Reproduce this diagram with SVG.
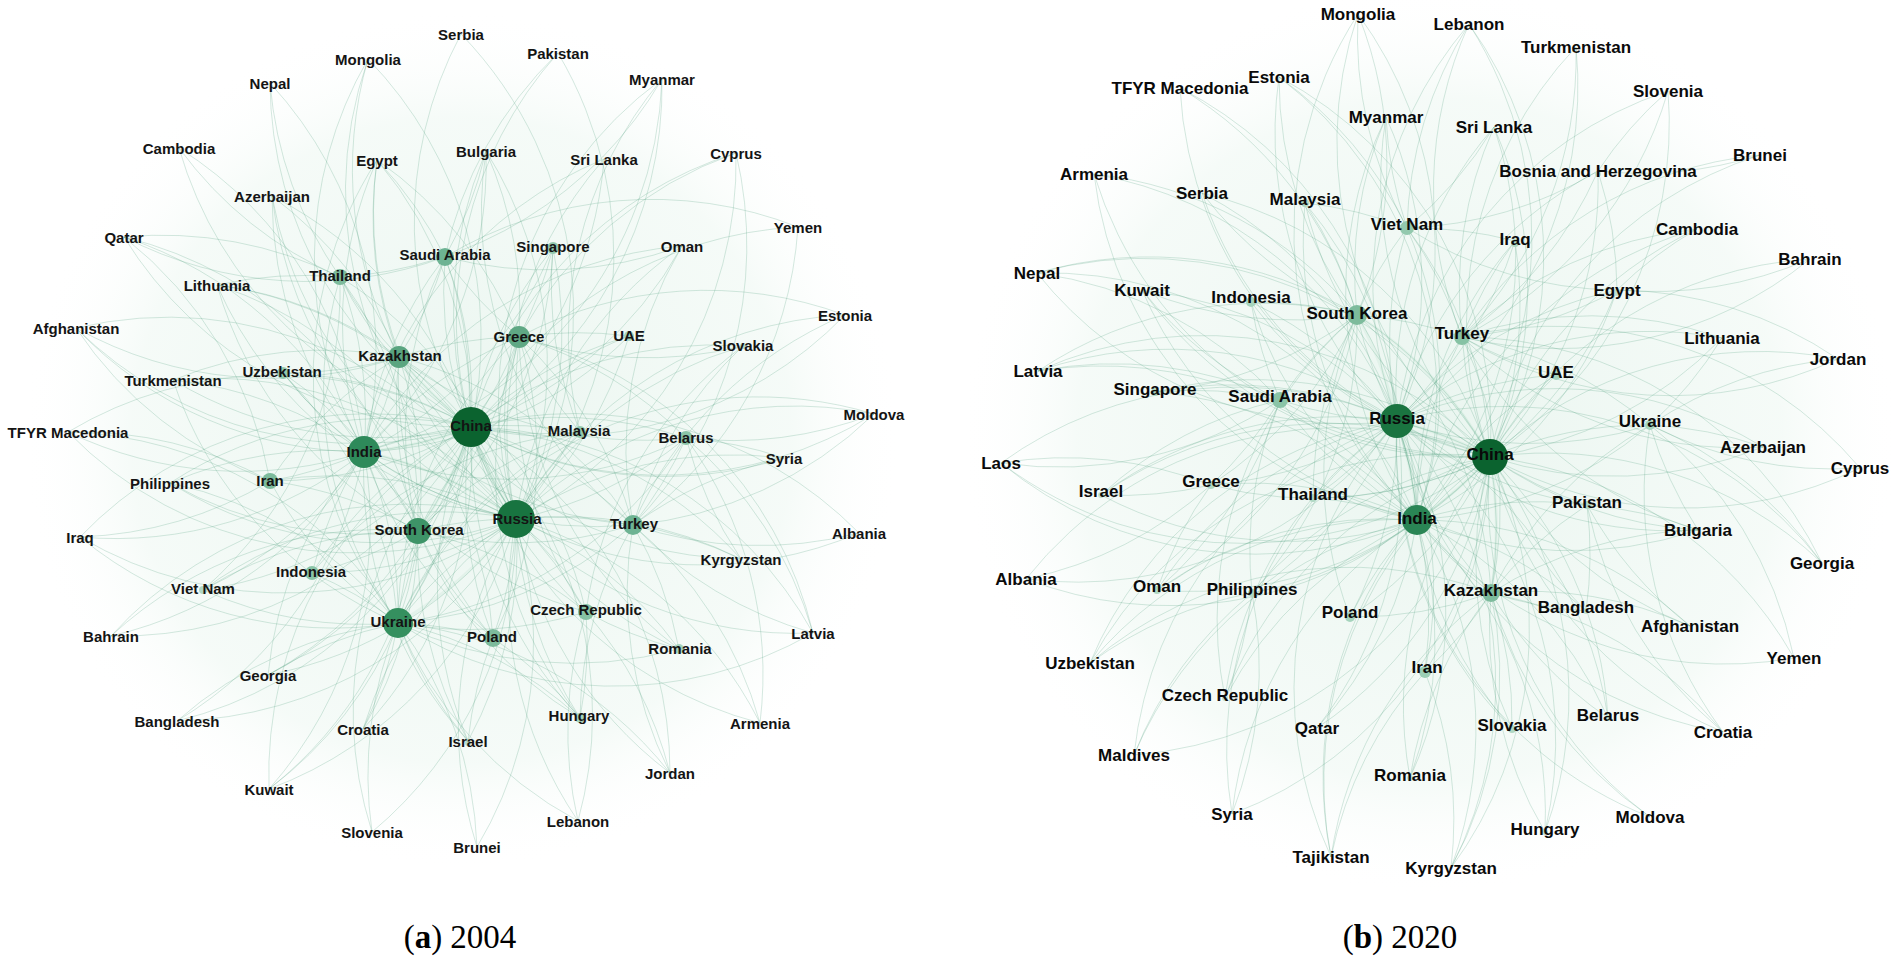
<svg xmlns="http://www.w3.org/2000/svg" width="1896" height="962" viewBox="0 0 1896 962">
<style>
.e{fill:none;stroke:#4f9e7c;stroke-width:.8;stroke-opacity:.3}
.w{fill:none;stroke:#8fcbb0;stroke-width:3;stroke-opacity:.12}
.ta{font-family:"Liberation Sans",Arial,sans-serif;font-weight:bold;font-size:15px;text-anchor:middle;dominant-baseline:central;fill:#141414}
.tb{font-family:"Liberation Sans",Arial,sans-serif;font-weight:bold;font-size:17px;text-anchor:middle;dominant-baseline:central;fill:#0a0a0a}
.cap{font-family:"Liberation Serif","Times New Roman",serif;font-size:33px;text-anchor:middle;fill:#000}
</style>
<defs>
<radialGradient id="halo" cx="50%" cy="50%" r="50%">
<stop offset="0" stop-color="#cfe9dc" stop-opacity=".45"/>
<stop offset=".75" stop-color="#e3f3ea" stop-opacity=".35"/>
<stop offset="1" stop-color="#ffffff" stop-opacity="0"/>
</radialGradient>
</defs>
<rect width="1896" height="962" fill="#ffffff"/>
<ellipse cx="462" cy="440" rx="440" ry="430" fill="url(#halo)"/>
<ellipse cx="1430" cy="440" rx="470" ry="455" fill="url(#halo)"/>
<g id="connectors">
<g id="edges-a">
<path class="w" d="M471 427A400 400 0 0 0 516 519"/><path class="w" d="M471 427A400 400 0 0 1 364 452"/><path class="w" d="M516 519A400 400 0 0 1 398 623"/><path class="w" d="M471 427A400 400 0 0 1 418 531"/><path class="w" d="M471 427A400 400 0 0 1 399 357"/><path class="w" d="M516 519A400 400 0 0 0 364 452"/>
<path class="e" d="M471 427A400 400 0 0 1 461 34"/><path class="e" d="M471 427A400 400 0 0 0 368 59"/><path class="e" d="M471 427A400 400 0 0 1 558 53"/><path class="e" d="M471 427A400 400 0 0 1 270 83"/><path class="e" d="M471 427A400 400 0 0 0 662 79"/><path class="e" d="M471 427A400 400 0 0 1 179 148"/><path class="e" d="M471 427A400 400 0 0 0 377 160"/><path class="e" d="M471 427A400 400 0 0 1 486 151"/><path class="e" d="M471 427A400 400 0 0 0 604 159"/><path class="e" d="M471 427A400 400 0 0 1 736 153"/><path class="e" d="M471 427A400 400 0 0 0 272 196"/><path class="e" d="M471 427A400 400 0 0 1 124 237"/><path class="e" d="M471 427A400 400 0 0 0 445 257"/><path class="e" d="M471 427A400 400 0 0 1 553 248"/><path class="e" d="M471 427A400 400 0 0 0 682 246"/><path class="e" d="M471 427A400 400 0 0 1 798 227"/><path class="e" d="M471 427A400 400 0 0 1 340 277"/><path class="e" d="M471 427A400 400 0 0 0 217 285"/><path class="e" d="M471 427A400 400 0 0 1 76 328"/><path class="e" d="M471 427A400 400 0 0 0 845 315"/><path class="e" d="M471 427A400 400 0 0 1 399 357"/><path class="e" d="M471 427A400 400 0 0 0 519 337"/><path class="e" d="M471 427A400 400 0 0 1 629 336"/><path class="e" d="M471 427A400 400 0 0 1 743 346"/><path class="e" d="M471 427A400 400 0 0 0 283 373"/><path class="e" d="M471 427A400 400 0 0 1 173 380"/><path class="e" d="M471 427A400 400 0 0 0 68 432"/><path class="e" d="M471 427A400 400 0 0 1 364 452"/><path class="e" d="M471 427A400 400 0 0 0 580 432"/><path class="e" d="M471 427A400 400 0 0 1 686 438"/><path class="e" d="M471 427A400 400 0 0 0 784 458"/><path class="e" d="M471 427A400 400 0 0 1 270 481"/><path class="e" d="M471 427A400 400 0 0 0 170 483"/><path class="e" d="M471 427A400 400 0 0 1 418 531"/><path class="e" d="M471 427A400 400 0 0 0 516 519"/><path class="e" d="M471 427A400 400 0 0 1 633 525"/><path class="e" d="M471 427A400 400 0 0 1 859 533"/><path class="e" d="M471 427A400 400 0 0 0 80 537"/><path class="e" d="M471 427A400 400 0 0 1 741 559"/><path class="e" d="M471 427A400 400 0 0 0 312 573"/><path class="e" d="M471 427A400 400 0 0 1 203 590"/><path class="e" d="M471 427A400 400 0 0 0 586 612"/><path class="e" d="M471 427A400 400 0 0 1 398 623"/><path class="e" d="M471 427A400 400 0 0 0 493 638"/><path class="e" d="M471 427A400 400 0 0 1 813 633"/><path class="e" d="M471 427A400 400 0 0 1 111 636"/><path class="e" d="M471 427A400 400 0 0 0 679 649"/><path class="e" d="M471 427A400 400 0 0 1 268 675"/><path class="e" d="M471 427A400 400 0 0 0 580 718"/><path class="e" d="M471 427A400 400 0 0 1 177 721"/><path class="e" d="M471 427A400 400 0 0 0 760 723"/><path class="e" d="M471 427A400 400 0 0 1 363 729"/><path class="e" d="M471 427A400 400 0 0 0 468 741"/><path class="e" d="M471 427A400 400 0 0 1 670 773"/><path class="e" d="M471 427A400 400 0 0 0 269 789"/><path class="e" d="M471 427A400 400 0 0 1 578 821"/><path class="e" d="M471 427A400 400 0 0 0 372 832"/><path class="e" d="M471 427A400 400 0 0 1 477 847"/><path class="e" d="M471 427A400 400 0 0 0 874 414"/>
<path class="e" d="M516 519A400 400 0 0 0 461 34"/><path class="e" d="M516 519A400 400 0 0 1 368 59"/><path class="e" d="M516 519A400 400 0 0 0 558 53"/><path class="e" d="M516 519A400 400 0 0 1 662 79"/><path class="e" d="M516 519A400 400 0 0 1 377 160"/><path class="e" d="M516 519A400 400 0 0 0 486 151"/><path class="e" d="M516 519A400 400 0 0 1 604 159"/><path class="e" d="M516 519A400 400 0 0 0 736 153"/><path class="e" d="M516 519A400 400 0 0 1 272 196"/><path class="e" d="M516 519A400 400 0 0 1 445 257"/><path class="e" d="M516 519A400 400 0 0 0 553 248"/><path class="e" d="M516 519A400 400 0 0 1 682 246"/><path class="e" d="M516 519A400 400 0 0 0 340 277"/><path class="e" d="M516 519A400 400 0 0 1 217 285"/><path class="e" d="M516 519A400 400 0 0 1 845 315"/><path class="e" d="M516 519A400 400 0 0 0 399 357"/><path class="e" d="M516 519A400 400 0 0 1 519 337"/><path class="e" d="M516 519A400 400 0 0 0 629 336"/><path class="e" d="M516 519A400 400 0 0 1 743 346"/><path class="e" d="M516 519A400 400 0 0 1 283 373"/><path class="e" d="M516 519A400 400 0 0 0 173 380"/><path class="e" d="M516 519A400 400 0 0 1 68 432"/><path class="e" d="M516 519A400 400 0 0 0 364 452"/><path class="e" d="M516 519A400 400 0 0 1 580 432"/><path class="e" d="M516 519A400 400 0 0 0 686 438"/><path class="e" d="M516 519A400 400 0 0 1 874 414"/><path class="e" d="M516 519A400 400 0 0 1 784 458"/><path class="e" d="M516 519A400 400 0 0 0 270 481"/><path class="e" d="M516 519A400 400 0 0 1 170 483"/><path class="e" d="M516 519A400 400 0 0 0 418 531"/><path class="e" d="M516 519A400 400 0 0 1 633 525"/><path class="e" d="M516 519A400 400 0 0 0 859 533"/><path class="e" d="M516 519A400 400 0 0 1 741 559"/><path class="e" d="M516 519A400 400 0 0 1 312 573"/><path class="e" d="M516 519A400 400 0 0 0 203 590"/><path class="e" d="M516 519A400 400 0 0 1 586 612"/><path class="e" d="M516 519A400 400 0 0 0 398 623"/><path class="e" d="M516 519A400 400 0 0 1 493 638"/><path class="e" d="M516 519A400 400 0 0 0 813 633"/><path class="e" d="M516 519A400 400 0 0 1 679 649"/><path class="e" d="M516 519A400 400 0 0 1 268 675"/><path class="e" d="M516 519A400 400 0 0 0 580 718"/><path class="e" d="M516 519A400 400 0 0 1 760 723"/><path class="e" d="M516 519A400 400 0 0 0 363 729"/><path class="e" d="M516 519A400 400 0 0 1 468 741"/><path class="e" d="M516 519A400 400 0 0 0 670 773"/><path class="e" d="M516 519A400 400 0 0 1 269 789"/><path class="e" d="M516 519A400 400 0 0 0 578 821"/><path class="e" d="M516 519A400 400 0 0 1 372 832"/><path class="e" d="M516 519A400 400 0 0 0 477 847"/><path class="e" d="M516 519A400 400 0 0 0 76 328"/><path class="e" d="M516 519A400 400 0 0 1 80 537"/><path class="e" d="M516 519A400 400 0 0 0 111 636"/><path class="e" d="M516 519A400 400 0 0 1 177 721"/>
<path class="e" d="M364 452A400 400 0 0 0 270 83"/><path class="e" d="M364 452A400 400 0 0 1 377 160"/><path class="e" d="M364 452A400 400 0 0 0 486 151"/><path class="e" d="M364 452A400 400 0 0 1 604 159"/><path class="e" d="M364 452A400 400 0 0 1 272 196"/><path class="e" d="M364 452A400 400 0 0 0 124 237"/><path class="e" d="M364 452A400 400 0 0 1 445 257"/><path class="e" d="M364 452A400 400 0 0 0 553 248"/><path class="e" d="M364 452A400 400 0 0 1 682 246"/><path class="e" d="M364 452A400 400 0 0 0 340 277"/><path class="e" d="M364 452A400 400 0 0 1 76 328"/><path class="e" d="M364 452A400 400 0 0 0 399 357"/><path class="e" d="M364 452A400 400 0 0 1 519 337"/><path class="e" d="M364 452A400 400 0 0 0 629 336"/><path class="e" d="M364 452A400 400 0 0 1 283 373"/><path class="e" d="M364 452A400 400 0 0 0 173 380"/><path class="e" d="M364 452A400 400 0 0 1 580 432"/><path class="e" d="M364 452A400 400 0 0 0 686 438"/><path class="e" d="M364 452A400 400 0 0 1 270 481"/><path class="e" d="M364 452A400 400 0 0 0 170 483"/><path class="e" d="M364 452A400 400 0 0 1 418 531"/><path class="e" d="M364 452A400 400 0 0 0 633 525"/><path class="e" d="M364 452A400 400 0 0 1 80 537"/><path class="e" d="M364 452A400 400 0 0 0 312 573"/><path class="e" d="M364 452A400 400 0 0 1 203 590"/><path class="e" d="M364 452A400 400 0 0 0 586 612"/><path class="e" d="M364 452A400 400 0 0 1 398 623"/><path class="e" d="M364 452A400 400 0 0 0 493 638"/><path class="e" d="M364 452A400 400 0 0 1 111 636"/><path class="e" d="M364 452A400 400 0 0 0 268 675"/><path class="e" d="M364 452A400 400 0 0 1 177 721"/><path class="e" d="M364 452A400 400 0 0 0 468 741"/><path class="e" d="M364 452A400 400 0 0 1 269 789"/><path class="e" d="M364 452A400 400 0 0 0 662 79"/><path class="e" d="M364 452A400 400 0 0 1 368 59"/><path class="e" d="M364 452A400 400 0 0 1 68 432"/><path class="e" d="M364 452A400 400 0 0 0 179 148"/>
<path class="e" d="M398 623A400 400 0 0 1 377 160"/><path class="e" d="M398 623A400 400 0 0 0 445 257"/><path class="e" d="M398 623A400 400 0 0 1 340 277"/><path class="e" d="M398 623A400 400 0 0 0 399 357"/><path class="e" d="M398 623A400 400 0 0 1 519 337"/><path class="e" d="M398 623A400 400 0 0 0 283 373"/><path class="e" d="M398 623A400 400 0 0 1 173 380"/><path class="e" d="M398 623A400 400 0 0 0 68 432"/><path class="e" d="M398 623A400 400 0 0 1 580 432"/><path class="e" d="M398 623A400 400 0 0 0 686 438"/><path class="e" d="M398 623A400 400 0 0 1 270 481"/><path class="e" d="M398 623A400 400 0 0 0 170 483"/><path class="e" d="M398 623A400 400 0 0 1 418 531"/><path class="e" d="M398 623A400 400 0 0 0 633 525"/><path class="e" d="M398 623A400 400 0 0 1 80 537"/><path class="e" d="M398 623A400 400 0 0 0 312 573"/><path class="e" d="M398 623A400 400 0 0 1 203 590"/><path class="e" d="M398 623A400 400 0 0 0 586 612"/><path class="e" d="M398 623A400 400 0 0 1 493 638"/><path class="e" d="M398 623A400 400 0 0 0 268 675"/><path class="e" d="M398 623A400 400 0 0 1 580 718"/><path class="e" d="M398 623A400 400 0 0 0 177 721"/><path class="e" d="M398 623A400 400 0 0 1 363 729"/><path class="e" d="M398 623A400 400 0 0 0 468 741"/><path class="e" d="M398 623A400 400 0 0 1 269 789"/><path class="e" d="M398 623A400 400 0 0 0 372 832"/><path class="e" d="M398 623A400 400 0 0 1 477 847"/><path class="e" d="M398 623A400 400 0 0 0 578 821"/><path class="e" d="M398 623A400 400 0 0 1 670 773"/><path class="e" d="M398 623A400 400 0 0 0 679 649"/><path class="e" d="M398 623A400 400 0 0 1 874 414"/><path class="e" d="M398 623A400 400 0 0 0 813 633"/>
<path class="e" d="M418 531A400 400 0 0 1 445 257"/><path class="e" d="M418 531A400 400 0 0 0 553 248"/><path class="e" d="M418 531A400 400 0 0 0 340 277"/><path class="e" d="M418 531A400 400 0 0 1 399 357"/><path class="e" d="M418 531A400 400 0 0 0 519 337"/><path class="e" d="M418 531A400 400 0 0 1 629 336"/><path class="e" d="M418 531A400 400 0 0 0 283 373"/><path class="e" d="M418 531A400 400 0 0 1 580 432"/><path class="e" d="M418 531A400 400 0 0 0 270 481"/><path class="e" d="M418 531A400 400 0 0 1 170 483"/><path class="e" d="M418 531A400 400 0 0 0 633 525"/><path class="e" d="M418 531A400 400 0 0 1 312 573"/><path class="e" d="M418 531A400 400 0 0 0 203 590"/><path class="e" d="M418 531A400 400 0 0 1 586 612"/><path class="e" d="M418 531A400 400 0 0 0 493 638"/><path class="e" d="M418 531A400 400 0 0 1 268 675"/><path class="e" d="M418 531A400 400 0 0 0 580 718"/><path class="e" d="M418 531A400 400 0 0 1 363 729"/><path class="e" d="M418 531A400 400 0 0 0 468 741"/><path class="e" d="M418 531A400 400 0 0 1 269 789"/><path class="e" d="M418 531A400 400 0 0 0 124 237"/><path class="e" d="M418 531A400 400 0 0 1 217 285"/><path class="e" d="M418 531A400 400 0 0 0 111 636"/>
<path class="e" d="M399 357A400 400 0 0 1 368 59"/><path class="e" d="M399 357A400 400 0 0 0 272 196"/><path class="e" d="M399 357A400 400 0 0 1 377 160"/><path class="e" d="M399 357A400 400 0 0 0 445 257"/><path class="e" d="M399 357A400 400 0 0 1 340 277"/><path class="e" d="M399 357A400 400 0 0 0 217 285"/><path class="e" d="M399 357A400 400 0 0 1 283 373"/><path class="e" d="M399 357A400 400 0 0 0 173 380"/><path class="e" d="M399 357A400 400 0 0 1 519 337"/><path class="e" d="M399 357A400 400 0 0 0 270 481"/><path class="e" d="M399 357A400 400 0 0 1 633 525"/><path class="e" d="M399 357A400 400 0 0 0 686 438"/><path class="e" d="M399 357A400 400 0 0 1 586 612"/><path class="e" d="M399 357A400 400 0 0 0 493 638"/><path class="e" d="M399 357A400 400 0 0 1 76 328"/><path class="e" d="M399 357A400 400 0 0 0 741 559"/>
<path class="e" d="M519 337A400 400 0 0 0 486 151"/><path class="e" d="M519 337A400 400 0 0 1 736 153"/><path class="e" d="M519 337A400 400 0 0 1 445 257"/><path class="e" d="M519 337A400 400 0 0 0 553 248"/><path class="e" d="M519 337A400 400 0 0 1 629 336"/><path class="e" d="M519 337A400 400 0 0 0 377 160"/><path class="e" d="M519 337A400 400 0 0 1 633 525"/><path class="e" d="M519 337A400 400 0 0 0 580 432"/><path class="e" d="M519 337A400 400 0 0 1 686 438"/><path class="e" d="M519 337A400 400 0 0 0 586 612"/><path class="e" d="M519 337A400 400 0 0 1 493 638"/><path class="e" d="M519 337A400 400 0 0 0 679 649"/><path class="e" d="M519 337A400 400 0 0 1 845 315"/><path class="e" d="M519 337A400 400 0 0 0 743 346"/><path class="e" d="M519 337A400 400 0 0 1 813 633"/><path class="e" d="M519 337A400 400 0 0 0 580 718"/>
<path class="e" d="M633 525A400 400 0 0 1 272 196"/><path class="e" d="M633 525A400 400 0 0 0 736 153"/><path class="e" d="M633 525A400 400 0 0 1 682 246"/><path class="e" d="M633 525A400 400 0 0 0 798 227"/><path class="e" d="M633 525A400 400 0 0 1 784 458"/><path class="e" d="M633 525A400 400 0 0 0 859 533"/><path class="e" d="M633 525A400 400 0 0 1 741 559"/><path class="e" d="M633 525A400 400 0 0 0 813 633"/><path class="e" d="M633 525A400 400 0 0 1 679 649"/><path class="e" d="M633 525A400 400 0 0 0 670 773"/><path class="e" d="M633 525A400 400 0 0 1 760 723"/><path class="e" d="M633 525A400 400 0 0 0 686 438"/><path class="e" d="M633 525A400 400 0 0 1 486 151"/><path class="e" d="M633 525A400 400 0 0 0 580 718"/><path class="e" d="M633 525A400 400 0 0 1 743 346"/><path class="e" d="M633 525A400 400 0 0 0 874 414"/><path class="e" d="M633 525A400 400 0 0 1 845 315"/>
<path class="e" d="M445 257A400 400 0 0 1 124 237"/><path class="e" d="M445 257A400 400 0 0 0 377 160"/><path class="e" d="M445 257A400 400 0 0 1 798 227"/><path class="e" d="M445 257A400 400 0 0 0 682 246"/><path class="e" d="M445 257A400 400 0 0 1 558 53"/><path class="e" d="M445 257A400 400 0 0 0 486 151"/>
<path class="e" d="M340 277A400 400 0 0 1 179 148"/><path class="e" d="M340 277A400 400 0 0 0 124 237"/><path class="e" d="M340 277A400 400 0 0 1 270 83"/><path class="e" d="M340 277A400 400 0 0 0 662 79"/><path class="e" d="M340 277A400 400 0 0 1 203 590"/><path class="e" d="M340 277A400 400 0 0 0 217 285"/>
<path class="e" d="M270 481A400 400 0 0 1 76 328"/><path class="e" d="M270 481A400 400 0 0 0 68 432"/><path class="e" d="M270 481A400 400 0 0 1 80 537"/><path class="e" d="M270 481A400 400 0 0 0 124 237"/>
<path class="e" d="M586 612A400 400 0 0 1 580 718"/><path class="e" d="M586 612A400 400 0 0 0 679 649"/><path class="e" d="M586 612A400 400 0 0 1 743 346"/><path class="e" d="M586 612A400 400 0 0 0 578 821"/><path class="e" d="M586 612A400 400 0 0 1 670 773"/>
<path class="e" d="M493 638A400 400 0 0 0 468 741"/><path class="e" d="M493 638A400 400 0 0 1 580 718"/><path class="e" d="M493 638A400 400 0 0 0 217 285"/>
<path class="e" d="M686 438A400 400 0 0 1 784 458"/><path class="e" d="M686 438A400 400 0 0 0 874 414"/><path class="e" d="M686 438A400 400 0 0 1 813 633"/><path class="e" d="M686 438A400 400 0 0 0 741 559"/><path class="e" d="M686 438A400 400 0 0 1 760 723"/>
<path class="e" d="M580 432A400 400 0 0 1 553 248"/><path class="e" d="M580 432A400 400 0 0 0 312 573"/><path class="e" d="M580 432A400 400 0 0 1 662 79"/>
</g>
<g id="edges-b">
<path class="w" d="M1490 457A400 400 0 0 0 1397 421"/><path class="w" d="M1490 457A400 400 0 0 1 1417 520"/><path class="w" d="M1397 421A400 400 0 0 1 1417 520"/><path class="w" d="M1490 457A400 400 0 0 0 1357 315"/><path class="w" d="M1490 457A400 400 0 0 1 1491 593"/><path class="w" d="M1397 421A400 400 0 0 0 1357 315"/>
<path class="e" d="M1490 457A400 400 0 0 1 1358 14"/><path class="e" d="M1490 457A400 400 0 0 0 1469 24"/><path class="e" d="M1490 457A400 400 0 0 1 1576 47"/><path class="e" d="M1490 457A400 400 0 0 0 1279 77"/><path class="e" d="M1490 457A400 400 0 0 1 1180 88"/><path class="e" d="M1490 457A400 400 0 0 0 1668 91"/><path class="e" d="M1490 457A400 400 0 0 1 1386 117"/><path class="e" d="M1490 457A400 400 0 0 0 1494 127"/><path class="e" d="M1490 457A400 400 0 0 1 1760 155"/><path class="e" d="M1490 457A400 400 0 0 0 1598 171"/><path class="e" d="M1490 457A400 400 0 0 1 1094 174"/><path class="e" d="M1490 457A400 400 0 0 0 1202 193"/><path class="e" d="M1490 457A400 400 0 0 1 1305 203"/><path class="e" d="M1490 457A400 400 0 0 0 1407 228"/><path class="e" d="M1490 457A400 400 0 0 1 1697 229"/><path class="e" d="M1490 457A400 400 0 0 0 1515 241"/><path class="e" d="M1490 457A400 400 0 0 1 1810 259"/><path class="e" d="M1490 457A400 400 0 0 0 1037 273"/><path class="e" d="M1490 457A400 400 0 0 1 1142 290"/><path class="e" d="M1490 457A400 400 0 0 0 1617 290"/><path class="e" d="M1490 457A400 400 0 0 1 1251 302"/><path class="e" d="M1490 457A400 400 0 0 0 1357 315"/><path class="e" d="M1490 457A400 400 0 0 1 1462 337"/><path class="e" d="M1490 457A400 400 0 0 0 1722 338"/><path class="e" d="M1490 457A400 400 0 0 1 1838 359"/><path class="e" d="M1490 457A400 400 0 0 0 1038 371"/><path class="e" d="M1490 457A400 400 0 0 1 1556 375"/><path class="e" d="M1490 457A400 400 0 0 0 1155 392"/><path class="e" d="M1490 457A400 400 0 0 1 1280 400"/><path class="e" d="M1490 457A400 400 0 0 0 1397 421"/><path class="e" d="M1490 457A400 400 0 0 1 1650 425"/><path class="e" d="M1490 457A400 400 0 0 0 1763 447"/><path class="e" d="M1490 457A400 400 0 0 1 1001 463"/><path class="e" d="M1490 457A400 400 0 0 0 1860 468"/><path class="e" d="M1490 457A400 400 0 0 1 1211 485"/><path class="e" d="M1490 457A400 400 0 0 0 1101 495"/><path class="e" d="M1490 457A400 400 0 0 1 1313 498"/><path class="e" d="M1490 457A400 400 0 0 0 1587 505"/><path class="e" d="M1490 457A400 400 0 0 1 1417 520"/><path class="e" d="M1490 457A400 400 0 0 0 1698 530"/><path class="e" d="M1490 457A400 400 0 0 1 1822 563"/><path class="e" d="M1490 457A400 400 0 0 0 1026 579"/><path class="e" d="M1490 457A400 400 0 0 1 1157 590"/><path class="e" d="M1490 457A400 400 0 0 0 1252 593"/><path class="e" d="M1490 457A400 400 0 0 1 1491 593"/><path class="e" d="M1490 457A400 400 0 0 0 1586 611"/><path class="e" d="M1490 457A400 400 0 0 1 1350 617"/><path class="e" d="M1490 457A400 400 0 0 0 1690 626"/><path class="e" d="M1490 457A400 400 0 0 1 1794 658"/><path class="e" d="M1490 457A400 400 0 0 0 1090 663"/><path class="e" d="M1490 457A400 400 0 0 1 1425 672"/><path class="e" d="M1490 457A400 400 0 0 0 1225 698"/><path class="e" d="M1490 457A400 400 0 0 1 1608 718"/><path class="e" d="M1490 457A400 400 0 0 0 1512 729"/><path class="e" d="M1490 457A400 400 0 0 1 1317 728"/><path class="e" d="M1490 457A400 400 0 0 0 1723 732"/><path class="e" d="M1490 457A400 400 0 0 1 1134 755"/><path class="e" d="M1490 457A400 400 0 0 0 1410 778"/><path class="e" d="M1490 457A400 400 0 0 1 1232 814"/><path class="e" d="M1490 457A400 400 0 0 0 1650 817"/><path class="e" d="M1490 457A400 400 0 0 1 1545 832"/><path class="e" d="M1490 457A400 400 0 0 0 1331 857"/><path class="e" d="M1490 457A400 400 0 0 1 1451 868"/>
<path class="e" d="M1397 421A400 400 0 0 0 1358 14"/><path class="e" d="M1397 421A400 400 0 0 1 1469 24"/><path class="e" d="M1397 421A400 400 0 0 0 1576 47"/><path class="e" d="M1397 421A400 400 0 0 1 1279 77"/><path class="e" d="M1397 421A400 400 0 0 0 1180 88"/><path class="e" d="M1397 421A400 400 0 0 1 1668 91"/><path class="e" d="M1397 421A400 400 0 0 0 1386 117"/><path class="e" d="M1397 421A400 400 0 0 1 1494 127"/><path class="e" d="M1397 421A400 400 0 0 1 1598 171"/><path class="e" d="M1397 421A400 400 0 0 0 1094 174"/><path class="e" d="M1397 421A400 400 0 0 1 1202 193"/><path class="e" d="M1397 421A400 400 0 0 0 1305 203"/><path class="e" d="M1397 421A400 400 0 0 1 1407 228"/><path class="e" d="M1397 421A400 400 0 0 0 1515 241"/><path class="e" d="M1397 421A400 400 0 0 1 1037 273"/><path class="e" d="M1397 421A400 400 0 0 0 1142 290"/><path class="e" d="M1397 421A400 400 0 0 1 1617 290"/><path class="e" d="M1397 421A400 400 0 0 0 1251 302"/><path class="e" d="M1397 421A400 400 0 0 1 1357 315"/><path class="e" d="M1397 421A400 400 0 0 0 1462 337"/><path class="e" d="M1397 421A400 400 0 0 1 1722 338"/><path class="e" d="M1397 421A400 400 0 0 0 1038 371"/><path class="e" d="M1397 421A400 400 0 0 1 1556 375"/><path class="e" d="M1397 421A400 400 0 0 0 1155 392"/><path class="e" d="M1397 421A400 400 0 0 1 1280 400"/><path class="e" d="M1397 421A400 400 0 0 0 1650 425"/><path class="e" d="M1397 421A400 400 0 0 1 1763 447"/><path class="e" d="M1397 421A400 400 0 0 0 1001 463"/><path class="e" d="M1397 421A400 400 0 0 1 1211 485"/><path class="e" d="M1397 421A400 400 0 0 0 1101 495"/><path class="e" d="M1397 421A400 400 0 0 1 1313 498"/><path class="e" d="M1397 421A400 400 0 0 0 1587 505"/><path class="e" d="M1397 421A400 400 0 0 1 1417 520"/><path class="e" d="M1397 421A400 400 0 0 0 1698 530"/><path class="e" d="M1397 421A400 400 0 0 1 1026 579"/><path class="e" d="M1397 421A400 400 0 0 0 1157 590"/><path class="e" d="M1397 421A400 400 0 0 1 1252 593"/><path class="e" d="M1397 421A400 400 0 0 0 1491 593"/><path class="e" d="M1397 421A400 400 0 0 1 1350 617"/><path class="e" d="M1397 421A400 400 0 0 0 1090 663"/><path class="e" d="M1397 421A400 400 0 0 1 1425 672"/><path class="e" d="M1397 421A400 400 0 0 0 1225 698"/><path class="e" d="M1397 421A400 400 0 0 1 1608 718"/><path class="e" d="M1397 421A400 400 0 0 0 1512 729"/><path class="e" d="M1397 421A400 400 0 0 1 1317 728"/><path class="e" d="M1397 421A400 400 0 0 0 1134 755"/><path class="e" d="M1397 421A400 400 0 0 1 1410 778"/><path class="e" d="M1397 421A400 400 0 0 0 1232 814"/><path class="e" d="M1397 421A400 400 0 0 1 1545 832"/><path class="e" d="M1397 421A400 400 0 0 0 1331 857"/><path class="e" d="M1397 421A400 400 0 0 1 1451 868"/><path class="e" d="M1397 421A400 400 0 0 0 1650 817"/><path class="e" d="M1397 421A400 400 0 0 1 1822 563"/><path class="e" d="M1397 421A400 400 0 0 0 1723 732"/>
<path class="e" d="M1417 520A400 400 0 0 1 1358 14"/><path class="e" d="M1417 520A400 400 0 0 0 1469 24"/><path class="e" d="M1417 520A400 400 0 0 0 1279 77"/><path class="e" d="M1417 520A400 400 0 0 1 1386 117"/><path class="e" d="M1417 520A400 400 0 0 0 1494 127"/><path class="e" d="M1417 520A400 400 0 0 1 1094 174"/><path class="e" d="M1417 520A400 400 0 0 0 1202 193"/><path class="e" d="M1417 520A400 400 0 0 1 1305 203"/><path class="e" d="M1417 520A400 400 0 0 0 1407 228"/><path class="e" d="M1417 520A400 400 0 0 1 1515 241"/><path class="e" d="M1417 520A400 400 0 0 0 1037 273"/><path class="e" d="M1417 520A400 400 0 0 1 1142 290"/><path class="e" d="M1417 520A400 400 0 0 0 1617 290"/><path class="e" d="M1417 520A400 400 0 0 1 1251 302"/><path class="e" d="M1417 520A400 400 0 0 0 1357 315"/><path class="e" d="M1417 520A400 400 0 0 1 1462 337"/><path class="e" d="M1417 520A400 400 0 0 0 1038 371"/><path class="e" d="M1417 520A400 400 0 0 1 1556 375"/><path class="e" d="M1417 520A400 400 0 0 0 1155 392"/><path class="e" d="M1417 520A400 400 0 0 1 1280 400"/><path class="e" d="M1417 520A400 400 0 0 0 1650 425"/><path class="e" d="M1417 520A400 400 0 0 1 1001 463"/><path class="e" d="M1417 520A400 400 0 0 0 1211 485"/><path class="e" d="M1417 520A400 400 0 0 1 1101 495"/><path class="e" d="M1417 520A400 400 0 0 0 1313 498"/><path class="e" d="M1417 520A400 400 0 0 1 1587 505"/><path class="e" d="M1417 520A400 400 0 0 0 1698 530"/><path class="e" d="M1417 520A400 400 0 0 1 1026 579"/><path class="e" d="M1417 520A400 400 0 0 0 1157 590"/><path class="e" d="M1417 520A400 400 0 0 1 1252 593"/><path class="e" d="M1417 520A400 400 0 0 0 1491 593"/><path class="e" d="M1417 520A400 400 0 0 1 1586 611"/><path class="e" d="M1417 520A400 400 0 0 0 1350 617"/><path class="e" d="M1417 520A400 400 0 0 1 1690 626"/><path class="e" d="M1417 520A400 400 0 0 0 1090 663"/><path class="e" d="M1417 520A400 400 0 0 1 1425 672"/><path class="e" d="M1417 520A400 400 0 0 0 1225 698"/><path class="e" d="M1417 520A400 400 0 0 1 1608 718"/><path class="e" d="M1417 520A400 400 0 0 0 1512 729"/><path class="e" d="M1417 520A400 400 0 0 1 1317 728"/><path class="e" d="M1417 520A400 400 0 0 0 1134 755"/><path class="e" d="M1417 520A400 400 0 0 1 1410 778"/><path class="e" d="M1417 520A400 400 0 0 0 1232 814"/><path class="e" d="M1417 520A400 400 0 0 1 1545 832"/><path class="e" d="M1417 520A400 400 0 0 0 1331 857"/><path class="e" d="M1417 520A400 400 0 0 1 1451 868"/><path class="e" d="M1417 520A400 400 0 0 0 1794 658"/><path class="e" d="M1417 520A400 400 0 0 1 1697 229"/>
<path class="e" d="M1357 315A400 400 0 0 0 1358 14"/><path class="e" d="M1357 315A400 400 0 0 1 1279 77"/><path class="e" d="M1357 315A400 400 0 0 0 1180 88"/><path class="e" d="M1357 315A400 400 0 0 1 1386 117"/><path class="e" d="M1357 315A400 400 0 0 0 1094 174"/><path class="e" d="M1357 315A400 400 0 0 1 1202 193"/><path class="e" d="M1357 315A400 400 0 0 0 1305 203"/><path class="e" d="M1357 315A400 400 0 0 1 1407 228"/><path class="e" d="M1357 315A400 400 0 0 0 1037 273"/><path class="e" d="M1357 315A400 400 0 0 1 1142 290"/><path class="e" d="M1357 315A400 400 0 0 0 1251 302"/><path class="e" d="M1357 315A400 400 0 0 1 1462 337"/><path class="e" d="M1357 315A400 400 0 0 0 1038 371"/><path class="e" d="M1357 315A400 400 0 0 1 1155 392"/><path class="e" d="M1357 315A400 400 0 0 0 1280 400"/><path class="e" d="M1357 315A400 400 0 0 1 1211 485"/><path class="e" d="M1357 315A400 400 0 0 0 1313 498"/><path class="e" d="M1357 315A400 400 0 0 1 1252 593"/><path class="e" d="M1357 315A400 400 0 0 0 1350 617"/><path class="e" d="M1357 315A400 400 0 0 1 1491 593"/><path class="e" d="M1357 315A400 400 0 0 0 1225 698"/><path class="e" d="M1357 315A400 400 0 0 1 1157 590"/>
<path class="e" d="M1491 593A400 400 0 0 1 1587 505"/><path class="e" d="M1491 593A400 400 0 0 0 1586 611"/><path class="e" d="M1491 593A400 400 0 0 1 1690 626"/><path class="e" d="M1491 593A400 400 0 0 0 1608 718"/><path class="e" d="M1491 593A400 400 0 0 1 1512 729"/><path class="e" d="M1491 593A400 400 0 0 0 1545 832"/><path class="e" d="M1491 593A400 400 0 0 1 1451 868"/><path class="e" d="M1491 593A400 400 0 0 0 1410 778"/><path class="e" d="M1491 593A400 400 0 0 1 1425 672"/><path class="e" d="M1491 593A400 400 0 0 0 1331 857"/><path class="e" d="M1491 593A400 400 0 0 1 1350 617"/><path class="e" d="M1491 593A400 400 0 0 0 1090 663"/><path class="e" d="M1491 593A400 400 0 0 1 1723 732"/><path class="e" d="M1491 593A400 400 0 0 0 1650 817"/><path class="e" d="M1491 593A400 400 0 0 1 1698 530"/><path class="e" d="M1491 593A400 400 0 0 0 1462 337"/><path class="e" d="M1491 593A400 400 0 0 1 1650 425"/>
<path class="e" d="M1462 337A400 400 0 0 1 1469 24"/><path class="e" d="M1462 337A400 400 0 0 0 1576 47"/><path class="e" d="M1462 337A400 400 0 0 1 1494 127"/><path class="e" d="M1462 337A400 400 0 0 0 1598 171"/><path class="e" d="M1462 337A400 400 0 0 1 1515 241"/><path class="e" d="M1462 337A400 400 0 0 0 1617 290"/><path class="e" d="M1462 337A400 400 0 0 1 1697 229"/><path class="e" d="M1462 337A400 400 0 0 0 1556 375"/><path class="e" d="M1462 337A400 400 0 0 1 1722 338"/><path class="e" d="M1462 337A400 400 0 0 0 1838 359"/><path class="e" d="M1462 337A400 400 0 0 1 1650 425"/><path class="e" d="M1462 337A400 400 0 0 0 1763 447"/><path class="e" d="M1462 337A400 400 0 0 1 1860 468"/><path class="e" d="M1462 337A400 400 0 0 0 1698 530"/><path class="e" d="M1462 337A400 400 0 0 1 1822 563"/><path class="e" d="M1462 337A400 400 0 0 0 1668 91"/><path class="e" d="M1462 337A400 400 0 0 1 1760 155"/><path class="e" d="M1462 337A400 400 0 0 0 1810 259"/>
<path class="e" d="M1280 400A400 400 0 0 1 1142 290"/><path class="e" d="M1280 400A400 400 0 0 0 1155 392"/><path class="e" d="M1280 400A400 400 0 0 1 1251 302"/><path class="e" d="M1280 400A400 400 0 0 0 1038 371"/><path class="e" d="M1280 400A400 400 0 0 1 1211 485"/><path class="e" d="M1280 400A400 400 0 0 0 1101 495"/><path class="e" d="M1280 400A400 400 0 0 1 1157 590"/><path class="e" d="M1280 400A400 400 0 0 0 1252 593"/><path class="e" d="M1280 400A400 400 0 0 1 1001 463"/><path class="e" d="M1280 400A400 400 0 0 0 1037 273"/>
<path class="e" d="M1407 228A400 400 0 0 1 1386 117"/><path class="e" d="M1407 228A400 400 0 0 0 1494 127"/><path class="e" d="M1407 228A400 400 0 0 1 1469 24"/><path class="e" d="M1407 228A400 400 0 0 0 1305 203"/><path class="e" d="M1407 228A400 400 0 0 1 1515 241"/><path class="e" d="M1407 228A400 400 0 0 0 1279 77"/><path class="e" d="M1407 228A400 400 0 0 1 1358 14"/><path class="e" d="M1407 228A400 400 0 0 0 1598 171"/><path class="e" d="M1407 228A400 400 0 0 1 1462 337"/><path class="e" d="M1407 228A400 400 0 0 0 1617 290"/>
<path class="e" d="M1650 425A400 400 0 0 1 1763 447"/><path class="e" d="M1650 425A400 400 0 0 0 1860 468"/><path class="e" d="M1650 425A400 400 0 0 1 1822 563"/><path class="e" d="M1650 425A400 400 0 0 0 1722 338"/><path class="e" d="M1650 425A400 400 0 0 1 1838 359"/><path class="e" d="M1650 425A400 400 0 0 0 1698 530"/><path class="e" d="M1650 425A400 400 0 0 1 1794 658"/><path class="e" d="M1650 425A400 400 0 0 0 1723 732"/>
<path class="e" d="M1587 505A400 400 0 0 1 1698 530"/><path class="e" d="M1587 505A400 400 0 0 0 1690 626"/><path class="e" d="M1587 505A400 400 0 0 1 1586 611"/><path class="e" d="M1587 505A400 400 0 0 0 1723 732"/>
<path class="e" d="M1211 485A400 400 0 0 1 1101 495"/><path class="e" d="M1211 485A400 400 0 0 0 1001 463"/><path class="e" d="M1211 485A400 400 0 0 1 1026 579"/><path class="e" d="M1211 485A400 400 0 0 0 1157 590"/>
<path class="e" d="M1252 593A400 400 0 0 1 1225 698"/><path class="e" d="M1252 593A400 400 0 0 0 1134 755"/><path class="e" d="M1252 593A400 400 0 0 1 1232 814"/><path class="e" d="M1252 593A400 400 0 0 0 1090 663"/>
<path class="e" d="M1617 290A400 400 0 0 1 1697 229"/><path class="e" d="M1617 290A400 400 0 0 0 1810 259"/><path class="e" d="M1617 290A400 400 0 0 1 1838 359"/>
<path class="e" d="M1598 171A400 400 0 0 1 1668 91"/><path class="e" d="M1598 171A400 400 0 0 0 1760 155"/><path class="e" d="M1598 171A400 400 0 0 1 1617 290"/>
<path class="e" d="M1425 672A400 400 0 0 0 1331 857"/><path class="e" d="M1425 672A400 400 0 0 1 1451 868"/>
</g>
</g>
<g id="nodes-a">
<g id="a-serbia"><text class="ta" x="461" y="34">Serbia</text></g>
<g id="a-mongolia"><text class="ta" x="368" y="59">Mongolia</text></g>
<g id="a-pakistan"><text class="ta" x="558" y="53">Pakistan</text></g>
<g id="a-nepal"><text class="ta" x="270" y="83">Nepal</text></g>
<g id="a-myanmar"><text class="ta" x="662" y="79">Myanmar</text></g>
<g id="a-cambodia"><text class="ta" x="179" y="148">Cambodia</text></g>
<g id="a-egypt"><text class="ta" x="377" y="160">Egypt</text></g>
<g id="a-bulgaria"><text class="ta" x="486" y="151">Bulgaria</text></g>
<g id="a-srilanka"><text class="ta" x="604" y="159">Sri Lanka</text></g>
<g id="a-cyprus"><text class="ta" x="736" y="153">Cyprus</text></g>
<g id="a-azerbaijan"><text class="ta" x="272" y="196">Azerbaijan</text></g>
<g id="a-qatar"><text class="ta" x="124" y="237">Qatar</text></g>
<g id="a-saudi"><circle cx="445" cy="257" r="9" fill="#6db393"/><text class="ta" x="445" y="254">Saudi Arabia</text></g>
<g id="a-singapore"><circle cx="553" cy="248" r="6" fill="#93c9ae"/><text class="ta" x="553" y="246">Singapore</text></g>
<g id="a-oman"><text class="ta" x="682" y="246">Oman</text></g>
<g id="a-yemen"><text class="ta" x="798" y="227">Yemen</text></g>
<g id="a-thailand"><circle cx="340" cy="277" r="8" fill="#7dbb9c"/><text class="ta" x="340" y="275">Thailand</text></g>
<g id="a-lithuania"><text class="ta" x="217" y="285">Lithuania</text></g>
<g id="a-afghanistan"><text class="ta" x="76" y="328">Afghanistan</text></g>
<g id="a-estonia"><text class="ta" x="845" y="315">Estonia</text></g>
<g id="a-kazakhstan"><circle cx="399" cy="357" r="11" fill="#5aa580"/><text class="ta" x="400" y="355">Kazakhstan</text></g>
<g id="a-greece"><circle cx="519" cy="337" r="11" fill="#5fa884"/><text class="ta" x="519" y="336">Greece</text></g>
<g id="a-uae"><circle cx="629" cy="336" r="5" fill="#a6d4bd"/><text class="ta" x="629" y="335">UAE</text></g>
<g id="a-slovakia"><circle cx="743" cy="346" r="3" fill="#b8dcca"/><text class="ta" x="743" y="345">Slovakia</text></g>
<g id="a-uzbekistan"><circle cx="283" cy="373" r="6" fill="#93c9ae"/><text class="ta" x="282" y="371">Uzbekistan</text></g>
<g id="a-turkmenistan"><text class="ta" x="173" y="380">Turkmenistan</text></g>
<g id="a-tfyr"><text class="ta" x="68" y="432">TFYR Macedonia</text></g>
<g id="a-china"><circle cx="471" cy="427" r="20" fill="#0b632f"/><text class="ta" x="471" y="425">China</text></g>
<g id="a-india"><circle cx="364" cy="452" r="16" fill="#2e8a5a"/><text class="ta" x="364" y="451">India</text></g>
<g id="a-malaysia"><circle cx="580" cy="432" r="6" fill="#93c9ae"/><text class="ta" x="579" y="430">Malaysia</text></g>
<g id="a-belarus"><circle cx="686" cy="438" r="7" fill="#8ac4a7"/><text class="ta" x="686" y="437">Belarus</text></g>
<g id="a-moldova"><text class="ta" x="874" y="414">Moldova</text></g>
<g id="a-syria"><text class="ta" x="784" y="458">Syria</text></g>
<g id="a-iran"><circle cx="270" cy="481" r="8" fill="#7dbb9c"/><text class="ta" x="270" y="480">Iran</text></g>
<g id="a-philippines"><text class="ta" x="170" y="483">Philippines</text></g>
<g id="a-southkorea"><circle cx="418" cy="531" r="13" fill="#3e9468"/><text class="ta" x="419" y="529">South Korea</text></g>
<g id="a-russia"><circle cx="516" cy="519" r="19" fill="#187440"/><text class="ta" x="517" y="518">Russia</text></g>
<g id="a-turkey"><circle cx="633" cy="525" r="10" fill="#6db393"/><text class="ta" x="634" y="523">Turkey</text></g>
<g id="a-albania"><text class="ta" x="859" y="533">Albania</text></g>
<g id="a-iraq"><text class="ta" x="80" y="537">Iraq</text></g>
<g id="a-kyrgyzstan"><text class="ta" x="741" y="559">Kyrgyzstan</text></g>
<g id="a-indonesia"><circle cx="312" cy="573" r="7" fill="#8ac4a7"/><text class="ta" x="311" y="571">Indonesia</text></g>
<g id="a-vietnam"><circle cx="203" cy="590" r="4" fill="#b0d8c4"/><text class="ta" x="203" y="588">Viet Nam</text></g>
<g id="a-czech"><circle cx="586" cy="612" r="8" fill="#86c2a4"/><text class="ta" x="586" y="609">Czech Republic</text></g>
<g id="a-ukraine"><circle cx="398" cy="623" r="15" fill="#35905f"/><text class="ta" x="398" y="621">Ukraine</text></g>
<g id="a-poland"><circle cx="493" cy="638" r="9" fill="#7dbb9c"/><text class="ta" x="492" y="636">Poland</text></g>
<g id="a-latvia"><text class="ta" x="813" y="633">Latvia</text></g>
<g id="a-bahrain"><text class="ta" x="111" y="636">Bahrain</text></g>
<g id="a-romania"><circle cx="679" cy="649" r="5" fill="#a6d4bd"/><text class="ta" x="680" y="648">Romania</text></g>
<g id="a-georgia"><text class="ta" x="268" y="675">Georgia</text></g>
<g id="a-hungary"><circle cx="580" cy="718" r="5" fill="#a6d4bd"/><text class="ta" x="579" y="715">Hungary</text></g>
<g id="a-bangladesh"><text class="ta" x="177" y="721">Bangladesh</text></g>
<g id="a-armenia"><text class="ta" x="760" y="723">Armenia</text></g>
<g id="a-croatia"><text class="ta" x="363" y="729">Croatia</text></g>
<g id="a-israel"><circle cx="468" cy="743" r="3" fill="#b8dcca"/><text class="ta" x="468" y="741">Israel</text></g>
<g id="a-jordan"><text class="ta" x="670" y="773">Jordan</text></g>
<g id="a-kuwait"><text class="ta" x="269" y="789">Kuwait</text></g>
<g id="a-lebanon"><text class="ta" x="578" y="821">Lebanon</text></g>
<g id="a-slovenia"><text class="ta" x="372" y="832">Slovenia</text></g>
<g id="a-brunei"><text class="ta" x="477" y="847">Brunei</text></g>
</g>
<g id="nodes-b">
<g id="b-mongolia"><text class="tb" x="1358" y="14">Mongolia</text></g>
<g id="b-lebanon"><text class="tb" x="1469" y="24">Lebanon</text></g>
<g id="b-turkmenistan"><text class="tb" x="1576" y="47">Turkmenistan</text></g>
<g id="b-estonia"><text class="tb" x="1279" y="77">Estonia</text></g>
<g id="b-tfyr"><text class="tb" x="1180" y="88">TFYR Macedonia</text></g>
<g id="b-slovenia"><text class="tb" x="1668" y="91">Slovenia</text></g>
<g id="b-myanmar"><text class="tb" x="1386" y="117">Myanmar</text></g>
<g id="b-srilanka"><text class="tb" x="1494" y="127">Sri Lanka</text></g>
<g id="b-brunei"><text class="tb" x="1760" y="155">Brunei</text></g>
<g id="b-bosnia"><circle cx="1598" cy="174" r="3" fill="#c2e1d1"/><text class="tb" x="1598" y="171">Bosnia and Herzegovina</text></g>
<g id="b-armenia"><text class="tb" x="1094" y="174">Armenia</text></g>
<g id="b-serbia"><text class="tb" x="1202" y="193">Serbia</text></g>
<g id="b-malaysia"><circle cx="1305" cy="203" r="4" fill="#b0d8c4"/><text class="tb" x="1305" y="199">Malaysia</text></g>
<g id="b-vietnam"><circle cx="1407" cy="228" r="7" fill="#93c9ae"/><text class="tb" x="1407" y="224">Viet Nam</text></g>
<g id="b-cambodia"><text class="tb" x="1697" y="229">Cambodia</text></g>
<g id="b-iraq"><circle cx="1515" cy="243" r="4" fill="#b0d8c4"/><text class="tb" x="1515" y="239">Iraq</text></g>
<g id="b-bahrain"><text class="tb" x="1810" y="259">Bahrain</text></g>
<g id="b-nepal"><text class="tb" x="1037" y="273">Nepal</text></g>
<g id="b-kuwait"><text class="tb" x="1142" y="290">Kuwait</text></g>
<g id="b-egypt"><circle cx="1617" cy="293" r="3" fill="#c2e1d1"/><text class="tb" x="1617" y="290">Egypt</text></g>
<g id="b-indonesia"><circle cx="1251" cy="302" r="5" fill="#a6d4bd"/><text class="tb" x="1251" y="297">Indonesia</text></g>
<g id="b-southkorea"><circle cx="1357" cy="315" r="10" fill="#7dbb9c"/><text class="tb" x="1357" y="313">South Korea</text></g>
<g id="b-turkey"><circle cx="1462" cy="337" r="8" fill="#86c2a4"/><text class="tb" x="1462" y="333">Turkey</text></g>
<g id="b-lithuania"><text class="tb" x="1722" y="338">Lithuania</text></g>
<g id="b-jordan"><text class="tb" x="1838" y="359">Jordan</text></g>
<g id="b-latvia"><text class="tb" x="1038" y="371">Latvia</text></g>
<g id="b-uae"><circle cx="1556" cy="375" r="5" fill="#a6d4bd"/><text class="tb" x="1556" y="372">UAE</text></g>
<g id="b-singapore"><circle cx="1155" cy="392" r="4" fill="#b0d8c4"/><text class="tb" x="1155" y="389">Singapore</text></g>
<g id="b-saudi"><circle cx="1280" cy="400" r="8" fill="#8ac4a7"/><text class="tb" x="1280" y="396">Saudi Arabia</text></g>
<g id="b-russia"><circle cx="1397" cy="421" r="17" fill="#1a7440"/><text class="tb" x="1397" y="418">Russia</text></g>
<g id="b-ukraine"><circle cx="1650" cy="425" r="5" fill="#a6d4bd"/><text class="tb" x="1650" y="421">Ukraine</text></g>
<g id="b-azerbaijan"><text class="tb" x="1763" y="447">Azerbaijan</text></g>
<g id="b-china"><circle cx="1490" cy="457" r="18" fill="#0b632f"/><text class="tb" x="1490" y="454">China</text></g>
<g id="b-laos"><text class="tb" x="1001" y="463">Laos</text></g>
<g id="b-cyprus"><text class="tb" x="1860" y="468">Cyprus</text></g>
<g id="b-greece"><circle cx="1211" cy="485" r="4" fill="#b0d8c4"/><text class="tb" x="1211" y="481">Greece</text></g>
<g id="b-israel"><circle cx="1101" cy="495" r="3" fill="#c2e1d1"/><text class="tb" x="1101" y="491">Israel</text></g>
<g id="b-thailand"><circle cx="1313" cy="498" r="4" fill="#b0d8c4"/><text class="tb" x="1313" y="494">Thailand</text></g>
<g id="b-pakistan"><circle cx="1587" cy="505" r="4" fill="#b0d8c4"/><text class="tb" x="1587" y="502">Pakistan</text></g>
<g id="b-india"><circle cx="1417" cy="520" r="15" fill="#2a8555"/><text class="tb" x="1417" y="518">India</text></g>
<g id="b-bulgaria"><text class="tb" x="1698" y="530">Bulgaria</text></g>
<g id="b-georgia"><text class="tb" x="1822" y="563">Georgia</text></g>
<g id="b-albania"><text class="tb" x="1026" y="579">Albania</text></g>
<g id="b-oman"><circle cx="1157" cy="590" r="4" fill="#b0d8c4"/><text class="tb" x="1157" y="586">Oman</text></g>
<g id="b-philippines"><circle cx="1252" cy="593" r="4" fill="#b0d8c4"/><text class="tb" x="1252" y="589">Philippines</text></g>
<g id="b-kazakhstan"><circle cx="1491" cy="593" r="9" fill="#7dbb9c"/><text class="tb" x="1491" y="590">Kazakhstan</text></g>
<g id="b-bangladesh"><circle cx="1586" cy="611" r="3" fill="#c2e1d1"/><text class="tb" x="1586" y="607">Bangladesh</text></g>
<g id="b-poland"><circle cx="1350" cy="617" r="5" fill="#a6d4bd"/><text class="tb" x="1350" y="612">Poland</text></g>
<g id="b-afghanistan"><text class="tb" x="1690" y="626">Afghanistan</text></g>
<g id="b-yemen"><text class="tb" x="1794" y="658">Yemen</text></g>
<g id="b-uzbekistan"><text class="tb" x="1090" y="663">Uzbekistan</text></g>
<g id="b-iran"><circle cx="1425" cy="672" r="6" fill="#9ccfb5"/><text class="tb" x="1427" y="667">Iran</text></g>
<g id="b-czech"><circle cx="1225" cy="698" r="3" fill="#c2e1d1"/><text class="tb" x="1225" y="695">Czech Republic</text></g>
<g id="b-belarus"><circle cx="1608" cy="718" r="3" fill="#c2e1d1"/><text class="tb" x="1608" y="715">Belarus</text></g>
<g id="b-slovakia"><circle cx="1512" cy="729" r="4" fill="#b0d8c4"/><text class="tb" x="1512" y="725">Slovakia</text></g>
<g id="b-qatar"><text class="tb" x="1317" y="728">Qatar</text></g>
<g id="b-croatia"><text class="tb" x="1723" y="732">Croatia</text></g>
<g id="b-maldives"><text class="tb" x="1134" y="755">Maldives</text></g>
<g id="b-romania"><circle cx="1410" cy="778" r="3" fill="#c2e1d1"/><text class="tb" x="1410" y="775">Romania</text></g>
<g id="b-syria"><text class="tb" x="1232" y="814">Syria</text></g>
<g id="b-moldova"><text class="tb" x="1650" y="817">Moldova</text></g>
<g id="b-hungary"><circle cx="1545" cy="832" r="3" fill="#c2e1d1"/><text class="tb" x="1545" y="829">Hungary</text></g>
<g id="b-tajikistan"><text class="tb" x="1331" y="857">Tajikistan</text></g>
<g id="b-kyrgyzstan"><text class="tb" x="1451" y="868">Kyrgyzstan</text></g>
</g>
<g id="captions">
<text class="cap" x="460" y="948">(<tspan font-weight="bold">a</tspan>) 2004</text>
<text class="cap" x="1400" y="948">(<tspan font-weight="bold">b</tspan>) 2020</text>
</g>
</svg>
